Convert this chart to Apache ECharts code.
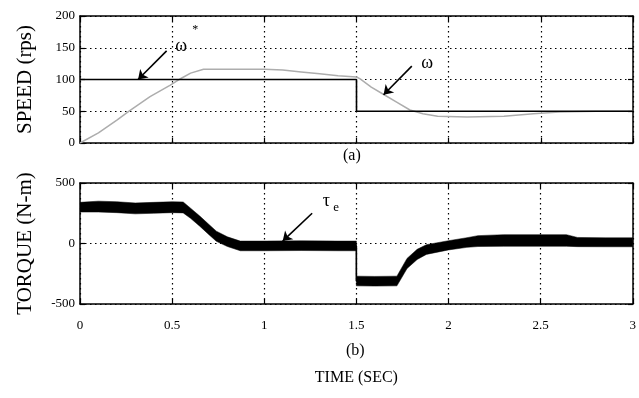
<!DOCTYPE html>
<html><head><meta charset="utf-8">
<script src="https://cdn.jsdelivr.net/npm/echarts@6/dist/echarts.min.js"></script>
<style>html,body{margin:0;padding:0;background:#fff}#c{width:639px;height:398px}</style>
</head><body><div id="c"></div>
<script>
// ---- data ----
const timeMin = 0, timeMax = 3, timeStep = 0.5;
const speedTicks = [0, 200, 50];      // min, max, interval
const torqueTicks = [-500, 500, 500]; // min, max, interval

const refTime  = [0, 1.5, 1.5, 3];
const refSpeed = [100, 100, 50, 50];

const speedTime   = [0, 0.1, 0.2, 0.27, 0.38, 0.49, 0.55, 0.6, 0.67, 0.8, 1.0, 1.1, 1.2, 1.3, 1.4, 1.5, 1.52, 1.58, 1.65, 1.72, 1.79, 1.86, 1.94, 2.1, 2.3, 2.46, 2.6, 2.8, 3.0];
const speedActual = [0, 16, 36, 51, 73, 91, 102, 110, 116, 116, 116, 115, 112, 109, 106, 104, 101, 88, 76, 64, 52, 46, 42, 41, 42, 46, 49, 50, 50];

const torqueTime = [0, 0.1, 0.2, 0.3, 0.4, 0.5, 0.56, 0.6, 0.65, 0.7, 0.74, 0.8, 0.87, 1.0, 1.2, 1.4, 1.5, 1.5, 1.6, 1.72, 1.775, 1.83, 1.88, 2.0, 2.1, 2.16, 2.3, 2.5, 2.64, 2.7, 2.85, 3.0];
const torqueMid  = [300, 305, 300, 290, 295, 300, 298, 250, 185, 115, 60, 15, -20, -20, -18, -20, -20, -310, -312, -310, -165, -90, -50, -15, 8, 20, 25, 25, 25, 12, 10, 10];
const torqueHalf = [40, 45, 45, 45, 45, 45, 45, 42, 42, 42, 42, 40, 40, 40, 40, 40, 40, 40, 40, 40, 42, 42, 40, 38, 40, 45, 48, 48, 48, 38, 37, 37];

// ---- chart ----
const serif = 'Liberation Serif';
const zip = (a, b) => a.map((v, i) => [v, b[i]]);
const chart = echarts.init(document.getElementById('c'), null, {renderer: 'canvas'});

const axLine = {show: true, onZero: false, lineStyle: {color: '#000', width: 1.5}};
const tick = {show: true, inside: true, length: 5, lineStyle: {color: '#000', width: 1.2}};
const dotted = {show: true, lineStyle: {color: '#000', width: 1.2, type: [1.5, 3.5]}};
const lbl = {color: '#000', fontFamily: serif, fontSize: 13};

function xAxes(grid, showLabels) {
  return [
    {type: 'value', gridIndex: grid, min: timeMin, max: timeMax, interval: timeStep, position: 'bottom',
     axisLine: axLine, axisTick: tick, splitLine: dotted,
     axisLabel: Object.assign({show: showLabels, margin: 15}, lbl),
     name: showLabels ? 'TIME (SEC)' : '', nameLocation: 'middle', nameGap: 66,
     nameTextStyle: {color: '#000', fontFamily: serif, fontSize: 16}},
    {type: 'value', gridIndex: grid, min: timeMin, max: timeMax, interval: timeStep, position: 'top',
     axisLine: axLine, axisTick: tick, splitLine: {show: false}, axisLabel: {show: false}}
  ];
}
function yAxes(grid, t, name, gap) {
  return [
    {type: 'value', gridIndex: grid, min: t[0], max: t[1], interval: t[2], position: 'left',
     axisLine: axLine, axisTick: tick, splitLine: dotted,
     axisLabel: Object.assign({margin: 5}, lbl),
     name: name, nameLocation: 'middle', nameRotate: 90, nameGap: gap,
     nameTextStyle: {color: '#000', fontFamily: serif, fontSize: 21}},
    {type: 'value', gridIndex: grid, min: t[0], max: t[1], interval: t[2], position: 'right',
     axisLine: axLine, axisTick: tick, splitLine: {show: false}, axisLabel: {show: false}}
  ];
}
const txt = (coord, s, size) => ({name: s, coord: coord, symbol: 'circle', symbolSize: 0,
  label: {show: true, position: 'inside', formatter: '{b}', color: '#000', fontFamily: serif, fontSize: size}});
const arrow = (a, b) => [{coord: a}, {coord: b}];

function renderBand(params, api) {
  if (params.dataIndex !== 0) return null;
  const upper = torqueTime.map((t, i) => api.coord([t, torqueMid[i] + torqueHalf[i]]));
  const lower = torqueTime.map((t, i) => api.coord([t, torqueMid[i] - torqueHalf[i]])).reverse();
  return {type: 'polygon', shape: {points: upper.concat(lower)},
          style: {fill: '#000', stroke: '#000', lineWidth: 0.5}};
}

const option = {
  animation: false,
  backgroundColor: '#fff',
  grid: [
    {left: 80, right: 6, top: 16, height: 127},
    {left: 80, right: 6, top: 183, height: 121}
  ],
  xAxis: xAxes(0, false).concat(xAxes(1, true)),
  yAxis: yAxes(0, speedTicks, 'SPEED (rps)', 44).concat(yAxes(1, torqueTicks, 'TORQUE (N-m)', 44)),
  graphic: [
    {type: 'text', left: 343, top: 148, style: {text: '(a)', font: '16px "Liberation Serif"', fill: '#000'}},
    {type: 'text', left: 346, top: 343, style: {text: '(b)', font: '16px "Liberation Serif"', fill: '#000'}}
  ],
  series: [
    {type: 'line', xAxisIndex: 0, yAxisIndex: 0, data: zip(speedTime, speedActual), showSymbol: false,
     lineStyle: {color: '#adadad', width: 1.5}, z: 2},
    {type: 'line', xAxisIndex: 0, yAxisIndex: 0, data: zip(refTime, refSpeed), showSymbol: false,
     lineStyle: {color: '#000', width: 1.6}, z: 3,
     markLine: {silent: true, symbol: ['none', 'arrow'], symbolSize: 9, label: {show: false},
       lineStyle: {color: '#000', width: 1.6, type: 'solid'},
       data: [arrow([0.47, 145], [0.315, 100]), arrow([1.80, 121], [1.647, 76])]},
     markPoint: {silent: true, data: [txt([0.549, 152], 'ω', 18), txt([0.625, 178], '*', 12), txt([1.883, 126], 'ω', 18)]}},
    {type: 'custom', xAxisIndex: 2, yAxisIndex: 2, clip: true, renderItem: renderBand,
     data: zip(torqueTime, torqueMid), z: 2},
    {type: 'line', xAxisIndex: 2, yAxisIndex: 2, data: zip(torqueTime, torqueMid), showSymbol: false,
     lineStyle: {color: '#000', width: 1.6}, z: 3,
     markLine: {silent: true, symbol: ['none', 'arrow'], symbolSize: 9, label: {show: false},
       lineStyle: {color: '#000', width: 1.6, type: 'solid'},
       data: [arrow([1.26, 250], [1.10, 20])]},
     markPoint: {silent: true, data: [txt([1.337, 345], 'τ', 18), txt([1.39, 300], 'e', 13)]}}
  ]
};
chart.setOption(option);
</script></body></html>
